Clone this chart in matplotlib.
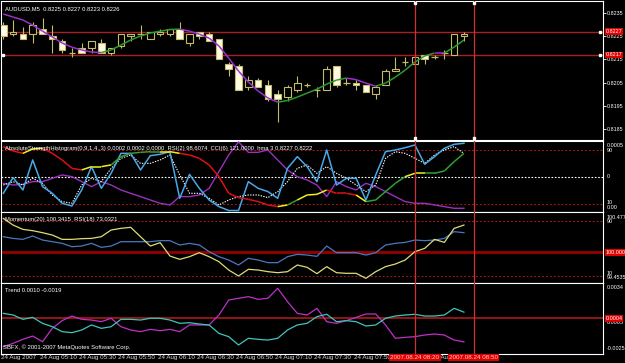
import matplotlib
matplotlib.use("Agg")
import matplotlib.pyplot as plt
import matplotlib.transforms as mtransforms
from matplotlib.patches import Rectangle
from matplotlib.collections import LineCollection
import numpy as np

plt.rcParams['font.family'] = ['Liberation Sans', 'DejaVu Sans']

# AUDUSD M5, 24 Aug 2007, 48 bars from 04:50
opens = [0.8230, 0.8226, 0.8226, 0.8226, 0.8228, 0.8225, 0.8223, 0.8218, 0.8220, 0.8220,
         0.8222, 0.8218, 0.8221, 0.8225, 0.8226, 0.8224, 0.8226, 0.8226, 0.8228, 0.8222,
         0.8227, 0.8226, 0.8224, 0.8213, 0.8212, 0.8203, 0.8206, 0.8204, 0.8200, 0.8199,
         0.8202, 0.8204, 0.8202, 0.8202, 0.8212, 0.8205, 0.8205, 0.8204, 0.8200, 0.8204,
         0.8210, 0.8214, 0.8213, 0.8217, 0.8216, 0.8218, 0.8217, 0.8225]
highs = [0.8231, 0.8232, 0.8229, 0.8231, 0.8233, 0.8230, 0.8224, 0.8220, 0.8222, 0.8223,
         0.8224, 0.8220, 0.8226, 0.8226, 0.8230, 0.8227, 0.8228, 0.8228, 0.8231, 0.8226,
         0.8227, 0.8227, 0.8224, 0.8214, 0.8213, 0.8208, 0.8207, 0.8206, 0.8202, 0.8204,
         0.8208, 0.8205, 0.8203, 0.8212, 0.8212, 0.8207, 0.8206, 0.8204, 0.8204, 0.8211,
         0.8216, 0.8216, 0.8217, 0.8217, 0.8217, 0.8219, 0.8226, 0.8227]
lows = [0.8224, 0.8225, 0.8224, 0.8222, 0.8226, 0.8218, 0.8218, 0.8216, 0.8218, 0.8218,
        0.8218, 0.8217, 0.8220, 0.8223, 0.8224, 0.8224, 0.8225, 0.8225, 0.8224, 0.8221,
        0.8224, 0.8223, 0.8215, 0.8208, 0.8202, 0.8202, 0.8203, 0.8197, 0.8188, 0.8197,
        0.8201, 0.8203, 0.8199, 0.8202, 0.8203, 0.8204, 0.8202, 0.8201, 0.8198, 0.8204,
        0.8210, 0.8212, 0.8213, 0.8213, 0.8215, 0.8215, 0.8217, 0.8223]
closes = [0.8225, 0.8227, 0.8224, 0.8230, 0.8226, 0.8224, 0.8219, 0.8218, 0.8218, 0.8223,
          0.8218, 0.8220, 0.8226, 0.8226, 0.8226, 0.8227, 0.8227, 0.8228, 0.8224, 0.8226,
          0.8225, 0.8223, 0.8215, 0.8211, 0.8202, 0.8206, 0.8203, 0.8198, 0.8198, 0.8203,
          0.8205, 0.8204, 0.8202, 0.8211, 0.8204, 0.8205, 0.8204, 0.8201, 0.8203, 0.8210,
          0.8211, 0.8214, 0.8216, 0.8215, 0.8216, 0.8218, 0.8226, 0.8226]
hma = [0.82346, 0.82333, 0.82320, 0.82298, 0.82272, 0.82247, 0.82221, 0.82203, 0.82191, 0.82182,
       0.82180, 0.82191, 0.82212, 0.82234, 0.82251, 0.82264, 0.82272, 0.82279, 0.82281, 0.82272,
       0.82259, 0.82242, 0.82208, 0.82156, 0.82100, 0.82053, 0.82014, 0.81984, 0.81966, 0.81973,
       0.81988, 0.82005, 0.82022, 0.82044, 0.82061, 0.82070, 0.82063, 0.82048, 0.82035, 0.82048,
       0.82074, 0.82104, 0.82139, 0.82165, 0.82178, 0.82178, 0.82203, 0.82234]
price_lines = [0.8227, 0.8217]
price_ticks = [0.8235, 0.8225, 0.8215, 0.8205, 0.8195, 0.8185]

# second window: ASH / RSI(2) / CCI(6) / hma, drawn on a 0-100 scale
ash = [94.9, 88.5, 85.0, 91.5, 92.5, 85.0, 75.2, 62.8, 60.4, 65.3, 65.3, 67.8, 80.1, 85.0, 86.5, 87.5,
       87.5, 87.5, 85.0, 82.6, 77.6, 67.8, 50.5, 25.8, 19.4, 16.9, 13.5, 8.5, 6.1, 8.5, 15.9, 23.3,
       24.3, 30.7, 25.8, 25.8, 23.3, 13.5, 15.9, 28.3, 40.6, 50.5, 55.4, 55.4, 55.4, 58.9, 72.7, 85.0]
ash_state = "rryyrrrryyygggggyyrrrrrrrrrrygyyyrrryggggyygggg"
rsi2 = [25.8, 49.0, 30.7, 75.2, 35.7, 25.8, 11.0, 7.0, 30.7, 65.3, 33.2, 55.4, 85.0, 85.0, 60.4, 81.6,
        83.6, 87.5, 18.4, 53.9, 33.2, 15.9, 6.1, 0.3, 0.3, 43.1, 33.2, 28.3, 18.4, 62.8, 80.1, 65.3,
        43.1, 90.0, 38.1, 48.0, 48.0, 15.9, 53.0, 87.5, 90.0, 93.4, 97.4, 68.8, 80.1, 92.5, 98.4, 99.9]
hma_osc = [38.1, 43.1, 38.1, 48.0, 40.6, 23.3, 13.5, 11.0, 38.1, 48.0, 43.1, 62.8, 77.6, 82.6, 70.2, 70.2,
           75.2, 82.6, 53.0, 25.8, 25.8, 18.4, 8.5, 15.9, 20.9, 23.3, 23.3, 19.4, 28.3, 43.1, 62.8, 67.8,
           55.4, 65.3, 55.4, 48.0, 38.1, 28.3, 38.1, 77.6, 87.5, 85.0, 77.6, 70.2, 82.6, 90.0, 94.9, 85.0]
cci6 = [40.6, 38.1, 39.1, 43.1, 43.1, 48.0, 53.0, 50.5, 43.1, 35.7, 43.1, 38.1, 30.7, 25.8, 20.9, 15.9,
        11.0, 8.5, 20.9, 20.9, 23.3, 33.2, 57.9, 82.6, 102.0, 86.5, 86.5, 90.0, 75.2, 60.4, 50.5, 45.6,
        38.1, 20.9, 43.1, 35.7, 30.7, 40.6, 35.7, 28.3, 20.9, 13.5, 11.0, 11.0, 8.5, 6.1, 3.6, 3.6]

# third window: Momentum(20) / RSI(18)
rsi18 = [93.4, 83.7, 77.4, 75.5, 72.6, 69.2, 62.9, 62.9, 63.9, 64.3, 66.8, 76.5, 78.9, 80.4, 66.8, 53.2,
         58.1, 38.7, 33.8, 37.7, 43.5, 37.7, 30.4, 18.3, 9.6, 19.3, 18.3, 15.9, 14.4, 15.9, 25.6, 22.2,
         13.0, 23.2, 14.4, 13.5, 13.5, 6.2, 15.9, 23.2, 27.0, 32.8, 45.0, 49.8, 62.9, 58.5, 78.9, 83.7]
momentum = [66.8, 64.3, 62.9, 67.7, 61.9, 59.5, 57.1, 52.2, 53.2, 57.1, 51.3, 53.2, 59.5, 59.5, 59.5, 59.5,
            61.0, 61.0, 54.7, 57.1, 54.7, 45.0, 37.7, 32.8, 25.6, 35.3, 32.8, 29.0, 29.0, 37.7, 41.1, 40.1,
            38.2, 53.2, 43.5, 43.5, 43.5, 40.1, 43.5, 54.7, 57.1, 58.5, 61.9, 61.0, 61.9, 64.3, 74.1, 72.6]
momentum_100 = 44.0

# fourth window: Trend
trend_up = [0.00088, 0.00072, 0.00030, 0.00049, -0.00009, -0.00042, -0.00090, -0.00100, -0.00074, -0.00025,
            -0.00058, -0.00042, 0.00030, 0.00030, 0.00023, 0.00040, 0.00040, 0.00023, -0.00009, -0.00003,
            -0.00016, -0.00025, -0.00107, -0.00139, -0.00220, -0.00155, -0.00165, -0.00172, -0.00155, -0.00074,
            -0.00025, -0.00009, 0.00056, 0.00079, 0.00007, 0.00017, 0.00007, -0.00035, -0.00025, 0.00040,
            0.00062, 0.00072, 0.00079, 0.00062, 0.00062, 0.00072, 0.00137, 0.00100]
trend_dn = [-0.00237, -0.00204, -0.00165, -0.00133, -0.00188, -0.00058, 0.00017, 0.00062, 0.00030, 0.00023,
            0.00007, 0.00040, -0.00042, -0.00074, -0.00090, -0.00068, -0.00081, -0.00068, -0.00090, -0.00025,
            -0.00025, -0.00025, 0.00072, 0.00218, 0.00235, 0.00251, 0.00225, 0.00235, 0.00332, 0.00202,
            0.00088, 0.00072, 0.00137, 0.00007, -0.00009, 0.00017, 0.00049, 0.00082, 0.00082, -0.00025,
            -0.00155, -0.00146, -0.00139, -0.00123, -0.00113, -0.00123, -0.00172, -0.00190]
trend_level = 0.0004

time_ticks = [0, 4, 8, 12, 16, 20, 24, 28, 32, 36, 40, 44]
time_labels = ["24 Aug 2007", "24 Aug 05:10", "24 Aug 05:30", "24 Aug 05:50", "24 Aug 06:10",
               "24 Aug 06:30", "24 Aug 06:50", "24 Aug 07:10", "24 Aug 07:30", "24 Aug 07:50",
               "24 Aug 08:10", "24 Aug 08:30"]
vlines = [42, 48]
vline_labels = ["2007.08.24 08:20", "2007.08.24 08:50"]

W, H = 625, 363
FS = 4.2     # MT4 uses tiny 7px fonts
TFS = 4.5    # time axis labels
RFS = 3.9    # right-hand scale labels, squeezed in 20px
fig = plt.figure(figsize=(W / 100, H / 100), dpi=100, facecolor='black')


def panel(top, bottom, ylim):
    ax = fig.add_axes([1 / W, 1 - bottom / H, 602 / W, (bottom - top) / H])
    ax.set_facecolor('black')
    for s in ax.spines.values():
        s.set_color('white')
        s.set_linewidth(0.8)
    ax.set_xlim(-0.235, 61.19)
    ax.set_ylim(*ylim)
    ax.set_xticks([])
    ax.set_yticks([])
    for v in vlines:
        ax.axvline(v, color='#d03030', lw=0.9, zorder=6)
    return ax


def right_label(ax, y, text, red=False):
    tr = mtransforms.blended_transform_factory(ax.transAxes, ax.transData)
    kw = dict(transform=tr, fontsize=RFS, va='center', ha='left', clip_on=False)
    if red:
        ax.text(1.004, y, text, color='white', zorder=20,
                bbox=dict(facecolor='#e00000', edgecolor='none', pad=0.6), **kw)
    else:
        ax.text(1.006, y, text, color='white', zorder=10, **kw)


x = np.arange(len(opens))

# ---- main window ----
ax1 = panel(1, 140, (0.81803, 0.82402))
edge = '#c4bc6c'
bw = 0.66
for i in range(len(opens)):
    o, h, l, c = opens[i], highs[i], lows[i], closes[i]
    ax1.vlines(i, l, h, color=edge, lw=0.8, zorder=3)
    if abs(c - o) < 1e-7:
        ax1.hlines(o, i - bw / 2, i + bw / 2, color=edge, lw=0.9, zorder=4)
    else:
        fc = 'black' if c > o else '#fffbe2'
        ax1.add_patch(Rectangle((i - bw / 2, min(o, c)), bw, abs(c - o), facecolor=fc,
                                edgecolor=edge, lw=0.8, zorder=4))
pts = np.column_stack([x, hma])
segs = np.stack([pts[:-1], pts[1:]], axis=1)
cols = ['#2d9a2d' if hma[k + 1] > hma[k] else '#9b30d0' for k in range(len(hma) - 1)]
ax1.add_collection(LineCollection(segs, colors=cols, lw=1.1, zorder=5))
for lv in price_lines:
    ax1.axhline(lv, color='#a82020', lw=1.0, zorder=2)
    ax1.plot([0, 60.9], [lv, lv], 's', color='white', ms=1.6, zorder=7, clip_on=False)
for v in vlines:
    ax1.plot([v, v], [0.82395, 0.81810], 's', color='white', ms=1.6, zorder=7, clip_on=False)
ax1.yaxis.tick_right()
ax1.set_yticks(price_ticks)
ax1.set_yticklabels([f"{p:.4f}" for p in price_ticks])
ax1.tick_params(axis='y', colors='white', labelsize=RFS, length=2, width=0.6, pad=1)
for lv in price_lines:
    right_label(ax1, lv, f"{lv:.4f}", red=True)
ax1.text(0.006, 0.96, "AUDUSD,M5  0.8225 0.8227 0.8223 0.8226", transform=ax1.transAxes,
         color='white', fontsize=FS, va='top', ha='left')

# ---- ASH / RSI / CCI window ----
ax2 = panel(141, 212, (-1.9, 103.3))
ax2.axhline(90, color='#b01818', lw=0.7, ls=(0, (2, 2)))
ax2.axhline(10, color='#b01818', lw=0.7, ls=(0, (2, 2)))
ax2.axhline(50, color='white', lw=0.8, ls=(0, (1.5, 1.5)))
ax2.plot(x, cci6, color='#9a30c0', lw=1.0, zorder=3)
ax2.plot(x, hma_osc, color='white', lw=0.8, ls=(0, (1.2, 1.2)), zorder=3)
ax2.plot(x, rsi2, color='#4aa8e8', lw=1.1, zorder=4)
state_col = {'r': '#e01010', 'y': '#f0f020', 'g': '#30a030'}
pts = np.column_stack([x, ash])
segs = np.stack([pts[:-1], pts[1:]], axis=1)
ax2.add_collection(LineCollection(segs, colors=[state_col[s] for s in ash_state], lw=1.1, zorder=5))
ax2.text(0.006, 0.93, "AbsoluteStrengthHistogram(0,9,1,4,,3) 0.0002 0.0002 0.0000  RSI(2) 98.6074  "
         "CCI(6) 121.0000  hma 3 0.8227 0.8222", transform=ax2.transAxes, color='white',
         fontsize=FS, va='top', ha='left', zorder=8)
right_label(ax2, 96.5, "0.0005")
right_label(ax2, 89.5, "90")
right_label(ax2, 50, "0")
right_label(ax2, 12.0, "10")
right_label(ax2, 4.5, "0.00")

# ---- Momentum / RSI(18) window ----
ax3 = panel(212, 283, (-0.6, 102.7))
ax3.axhline(90, color='#b01818', lw=0.7, ls=(0, (2, 2)))
ax3.axhline(10, color='#b01818', lw=0.7, ls=(0, (2, 2)))
ax3.axhline(momentum_100, color='#8b0000', lw=2.2)
ax3.plot(x, momentum, color='#4a78c0', lw=0.9, zorder=3)
ax3.plot(x, rsi18, color='#dcdc78', lw=0.9, zorder=4)
ax3.text(0.006, 0.93, "Momentum(20) 100.3415  RSI(18) 73.0321", transform=ax3.transAxes,
         color='white', fontsize=FS, va='top', ha='left')
right_label(ax3, 95.0, "100.477")
right_label(ax3, 89.5, "90")
right_label(ax3, 13.0, "10")
right_label(ax3, 7.0, "99.4535")
right_label(ax3, momentum_100, "100.000", red=True)

# ---- Trend window ----
ax4 = panel(283, 354, (-0.00308, 0.00384))
ax4.axhline(trend_level, color='#b01818', lw=1.2)
ax4.plot(x, trend_dn, color='#c030c8', lw=0.9, zorder=3)
ax4.plot(x, trend_up, color='#40c4bc', lw=0.9, zorder=4)
ax4.text(0.006, 0.93, "Trend 0.0010 -0.0019", transform=ax4.transAxes,
         color='white', fontsize=FS, va='top', ha='left')
ax4.text(0.004, 0.1, "SBFX, \u00a9 2001-2007 MetaQuotes Software Corp.", transform=ax4.transAxes,
         color='white', fontsize=FS, va='center', ha='left')
right_label(ax4, 0.0034, "0.0034")
right_label(ax4, -0.00002, "0.0005")
right_label(ax4, -0.0025, "-0.0025")
right_label(ax4, trend_level, f"{trend_level:.4f}", red=True)

# ---- time axis ----
tr = mtransforms.blended_transform_factory(ax4.transData, fig.transFigure)
ty = 1 - 357.5 / H
for t, lab in zip(time_ticks, time_labels):
    ax4.text(t - 0.25, ty, lab, transform=tr, color='#d8d8d8', fontsize=TFS,
             va='center', ha='left', clip_on=False)
for v, lab in zip(vlines, vline_labels):
    ax4.text(v, ty, lab, transform=tr, color='#ffd0d0', fontsize=TFS, va='center', ha='center',
             clip_on=False, zorder=20, bbox=dict(facecolor='#e00000', edgecolor='none', pad=0.8))

fig.savefig('out.png', dpi=100, facecolor='black')
